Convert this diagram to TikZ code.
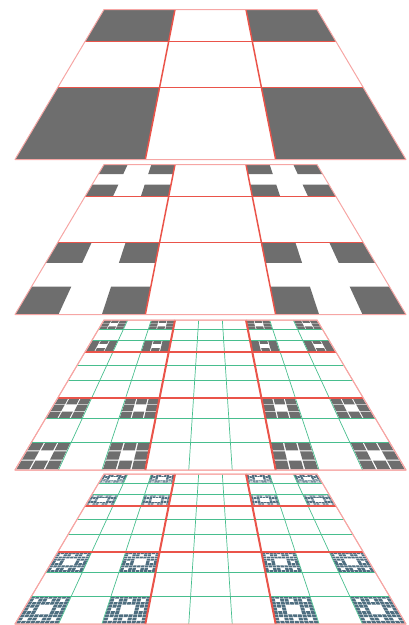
\documentclass[tikz,border=0pt]{standalone}
\usepackage{tikz}

\definecolor{cellgray}{RGB}{110,110,110}
\definecolor{dustblue}{RGB}{78,110,128}
\definecolor{gridred}{RGB}{234,84,74}
\definecolor{edgepink}{RGB}{246,166,164}
\definecolor{gridgreen}{RGB}{72,190,142}

\tikzset{
  declare function={
    zz(\v)=1+0.836*\v;
    px(\u,\v)=210.5+(\u-0.5)*391/zz(\v);
    py(\v)=329.4*(1-1/zz(\v));
  },
  redgrid/.style={gridred, line width=1.5pt},
  thickred/.style={gridred, line width=2pt},
  planeedge/.style={edgepink, line width=1pt, line join=round},
  greengrid/.style={gridgreen, line width=0.7pt},
}

% one filled square on a plane: [colour] bottom y, u, v, side
\newcommand{\cell}[5][cellgray]{%
  \fill[#1] ({px(#3,#4)},{py(#4)-#2}) -- ({px(#3+#5,#4)},{py(#4)-#2})
    -- ({px(#3+#5,#4+#5)},{py(#4+#5)-#2}) -- ({px(#3,#4+#5)},{py(#4+#5)-#2}) -- cycle;}

% grid lines of a plane: bottom y, parts, style
\newcommand{\planelines}[3]{%
  \pgfmathtruncatemacro\lastline{#2-1}
  \foreach \t in {1,...,\lastline} {
    \draw[#3] ({px(\t/#2,0)},{py(0)-#1}) -- ({px(\t/#2,1)},{py(1)-#1});
    \draw[#3] ({px(0,\t/#2)},{py(\t/#2)-#1}) -- ({px(1,\t/#2)},{py(\t/#2)-#1});
  }
  \draw[planeedge] ({px(0,0)},{py(0)-#1}) -- ({px(1,0)},{py(0)-#1})
    -- ({px(1,1)},{py(1)-#1}) -- ({px(0,1)},{py(1)-#1}) -- cycle;
}

\begin{document}
\begin{tikzpicture}[x=1pt, y=1pt]

    \useasboundingbox (0,0) rectangle (408,-625);

    % bottom edge of each plane
    \def\ya{159.5}
    \def\yb{314.5}
    \def\yc{470}
    \def\yd{624}

    % Plane 1: corner cells
    \foreach \i in {0,2} \foreach \j in {0,2}
        \cell{\ya}{\i/3}{\j/3}{1/3};
    \planelines{\ya}{3}{redgrid}

    % Plane 2: corners of the corners
    \foreach \i in {0,2} \foreach \j in {0,2}
      \foreach \k in {0,2} \foreach \l in {0,2}
        \cell{\yb}{\i/3+\k/9}{\j/3+\l/9}{1/9};
    \planelines{\yb}{3}{redgrid}

    % Plane 3: each small corner split, centre left open
    \foreach \i in {0,2} \foreach \j in {0,2}
      \foreach \k in {0,2} \foreach \l in {0,2}
        \foreach \m/\n in {0/0,0/1,0/2,1/0,1/2,2/0,2/1,2/2}
          \cell{\yc}{\i/3+\k/9+\m/27+0.002}{\j/3+\l/9+\n/27+0.002}{1/27-0.004};
    \planelines{\yc}{9}{greengrid}
    \planelines{\yc}{3}{thickred}

    % Plane 4: one step finer
    \foreach \i in {0,2} \foreach \j in {0,2}
      \foreach \k in {0,2} \foreach \l in {0,2}
        \foreach \m/\n in {0/0,0/1,0/2,1/0,1/2,2/0,2/1,2/2}
          \foreach \p/\q in {0/0,0/1,0/2,1/0,1/2,2/0,2/1,2/2}
            \cell[dustblue]{\yd}{\i/3+\k/9+\m/27+\p/81+0.001}{\j/3+\l/9+\n/27+\q/81+0.001}{1/81-0.002};
    \planelines{\yd}{9}{greengrid}
    \planelines{\yd}{3}{thickred}

\end{tikzpicture}
\end{document}
